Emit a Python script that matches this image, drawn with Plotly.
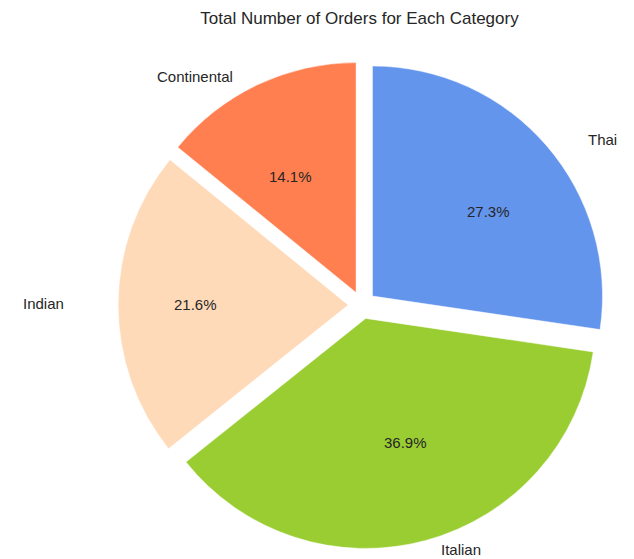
import numpy as np
import plotly.graph_objects as go

# Share of orders per cuisine category (percent), listed clockwise from 12 o'clock
categories = ["Thai", "Italian", "Indian", "Continental"]
shares = [27.3, 36.9, 21.6, 14.1]
slice_colors = ["#6495ED", "#9ACD32", "#FFDAB9", "#FF7F50"]

title_text = "Total Number of Orders for Each Category"

# Figure / pie geometry
W, H = 634, 559
explode = 0.06
pct_distance = 0.56
label_distance = 1.04
text_spread_x = 1.17          # horizontal spread of the text ring
domain = dict(x=[0.145, 0.997], y=[0.018, 0.8905])
font_family = "Liberation Sans, Arial, sans-serif"
text_color = "#262626"

fig = go.Figure()

fig.add_trace(go.Pie(
    labels=categories,
    values=shares,
    sort=False,
    direction="clockwise",
    rotation=0,
    pull=[explode] * len(categories),
    domain=domain,
    marker=dict(colors=slice_colors, line=dict(color="white", width=0.5)),
    textinfo="none",
    showlegend=False,
    hoverinfo="label+percent",
))

# Pie centre and radius in pixels, following plotly's pie sizing rule
box_w = W * (domain["x"][1] - domain["x"][0])
box_h = H * (domain["y"][1] - domain["y"][0])
r = min(box_w, box_h) / 2 / (1 + explode)
cx = W * (domain["x"][0] + domain["x"][1]) / 2
cy = H * (1 - (domain["y"][0] + domain["y"][1]) / 2)

# Mid-angle of each wedge (degrees, counter-clockwise from 3 o'clock)
vals = np.array(shares, dtype=float)
frac = vals / vals.sum()
start = 90 - 360 * (np.cumsum(frac) - frac)
mid = np.deg2rad(start - 180 * frac)


def to_paper(dist):
    px = cx + text_spread_x * dist * np.cos(mid)
    py = cy - dist * np.sin(mid)
    return px / W, 1 - py / H


# Percentages inside the wedges
px_pct, py_pct = to_paper((pct_distance + explode) * r)
for p, x, y in zip(frac, px_pct, py_pct):
    fig.add_annotation(
        x=x, y=y, xref="paper", yref="paper",
        text=f"{p * 100:.1f}%", showarrow=False,
        xanchor="center", yanchor="middle",
        font=dict(family=font_family, size=15, color=text_color),
    )

# Category names outside the wedges
px_lab, py_lab = to_paper((label_distance + explode) * r)
for name, x, y, a in zip(categories, px_lab, py_lab, mid):
    fig.add_annotation(
        x=x, y=y, xref="paper", yref="paper",
        text=name, showarrow=False,
        xanchor="left" if np.cos(a) > 0 else "right", yanchor="middle",
        font=dict(family=font_family, size=15, color=text_color),
    )

fig.update_layout(
    width=W,
    height=H,
    margin=dict(l=0, r=0, t=0, b=0),
    paper_bgcolor="white",
    plot_bgcolor="white",
    title=dict(
        text=title_text,
        x=0.567,
        xanchor="center",
        y=0.968,
        yanchor="middle",
        font=dict(family=font_family, size=17, color=text_color),
    ),
)

fig.write_html("out.html")
